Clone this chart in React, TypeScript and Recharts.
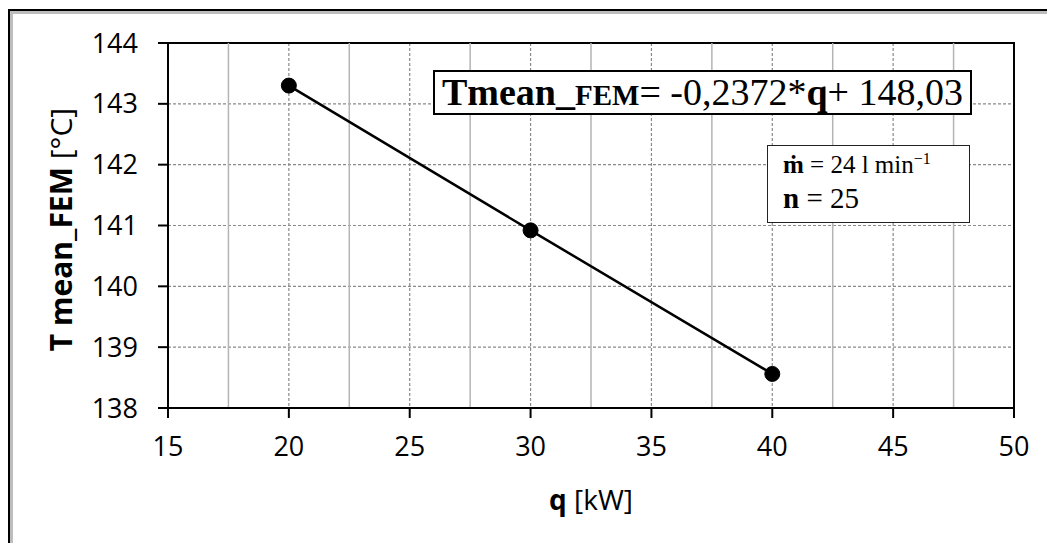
import React from 'react';
import {
  LineChart,
  Line,
  XAxis,
  YAxis,
  CartesianGrid,
  ReferenceLine,
  ReferenceArea,
} from 'recharts';

// heat flux q [kW] and mean FEM temperature [°C]
const qValues = [20, 30, 40];
const tMeanValues = [143.3, 140.92, 138.56];

const xTicks = [15, 20, 25, 30, 35, 40, 45, 50];
const xMinorGrid = [17.5, 22.5, 27.5, 32.5, 37.5, 42.5, 47.5];
const yTicks = [138, 139, 140, 141, 142, 143, 144];

const data = qValues.map((q, i) => ({ q, t: tMeanValues[i] }));

const SANS = '"Open Sans", "Noto Sans", sans-serif';
const SERIF = '"Liberation Serif", "DejaVu Serif", serif';

function YLabel({ viewBox }: any) {
  const cx = viewBox.x + 60;
  const cy = viewBox.y + viewBox.height / 2 + 4;
  return (
    <text
      x={cx}
      y={cy}
      transform={`rotate(-90 ${cx} ${cy})`}
      textAnchor="middle"
      dominantBaseline="central"
      fontFamily={SANS}
      fontSize={30}
      fill="#000"
    >
      <tspan fontWeight="bold">T mean_FEM</tspan>
      <tspan> [°C]</tspan>
    </text>
  );
}

function XLabel({ viewBox }: any) {
  const cx = viewBox.x + viewBox.width / 2;
  return (
    <text
      x={cx}
      y={viewBox.y + 102}
      textAnchor="middle"
      fontFamily={SANS}
      fontSize={28}
      fill="#000"
    >
      <tspan fontWeight="bold">q</tspan>
      <tspan> [kW]</tspan>
    </text>
  );
}

export default function App() {
  return (
    <div
      style={{
        position: 'absolute',
        left: 0,
        top: 0,
        width: 1047,
        height: 543,
        overflow: 'hidden',
        background: '#fff',
      }}
    >
      <div
        style={{
          position: 'absolute',
          left: 8,
          top: 9,
          width: 1200,
          height: 700,
          border: '2px solid #000',
          boxShadow: 'inset 3px 3px 0 #bdbdbd',
        }}
      />
      <div style={{ position: 'absolute', left: 0, top: 0 }}>
        <LineChart
          width={1047}
          height={543}
          data={data}
          margin={{ top: 43, right: 33, bottom: 0, left: 0 }}
        >
          {xMinorGrid.map((x) => (
            <ReferenceLine key={x} x={x} stroke="#b4b4b4" strokeWidth={1.5} />
          ))}
          <CartesianGrid stroke="#8a8a8a" strokeDasharray="3 2" strokeWidth={1.2} />
          <XAxis
            type="number"
            dataKey="q"
            domain={[15, 50]}
            ticks={xTicks}
            interval={0}
            tickSize={10}
            tickMargin={19}
            axisLine={{ stroke: '#000', strokeWidth: 2 }}
            tickLine={{ stroke: '#000', strokeWidth: 2 }}
            tick={{ fontSize: 27, fill: '#000', fontFamily: SANS }}
            height={135}
            label={<XLabel />}
          />
          <YAxis
            type="number"
            domain={[138, 144]}
            ticks={yTicks}
            interval={0}
            width={168}
            tickSize={10}
            tickMargin={20}
            axisLine={{ stroke: '#000', strokeWidth: 2 }}
            tickLine={{ stroke: '#000', strokeWidth: 2 }}
            tick={{ fontSize: 27, fill: '#000', fontFamily: SANS }}
            label={<YLabel />}
          />
          <ReferenceArea
            x1={15}
            x2={50}
            y1={138}
            y2={144}
            fill="none"
            stroke="#000"
            strokeWidth={2}
          />
          <Line
            dataKey="t"
            type="linear"
            stroke="#000"
            strokeWidth={2.5}
            dot={{ r: 7.5, fill: '#000', stroke: '#000', strokeWidth: 1 }}
            isAnimationActive={false}
          />
        </LineChart>
      </div>
      <div
        style={{
          position: 'absolute',
          left: 433,
          top: 70,
          width: 535,
          height: 41,
          border: '2px solid #000',
          background: '#fff',
          fontFamily: SERIF,
          fontSize: 38,
          lineHeight: '41px',
          textAlign: 'center',
          whiteSpace: 'nowrap',
          color: '#000',
        }}
      >
        <b>Tmean_</b>
        <b style={{ fontSize: 29 }}>FEM</b>= -0,2372*<b>q</b>+ 148,03
      </div>
      <div
        style={{
          position: 'absolute',
          left: 767,
          top: 145,
          width: 201,
          height: 76,
          border: '1.5px solid #222',
          background: '#fff',
          fontFamily: SERIF,
          color: '#000',
          whiteSpace: 'nowrap',
        }}
      >
        <div style={{ position: 'absolute', left: 15, top: 4, fontSize: 25 }}>
          <b>ṁ</b> = 24 l min<sup style={{ fontSize: 16 }}>−1</sup>
        </div>
        <div style={{ position: 'absolute', left: 15, top: 36, fontSize: 29 }}>
          <b>n</b> = 25
        </div>
      </div>
    </div>
  );
}
